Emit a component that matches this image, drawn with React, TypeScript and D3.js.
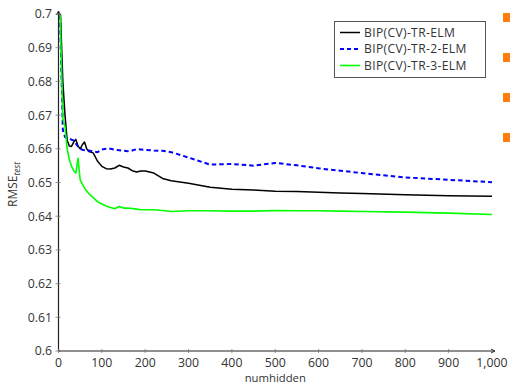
import React from "react";
import * as d3 from "d3";

// numhidden sample points shared by all three series
const numHidden = [1, 10, 15, 20, 25, 30, 35, 40, 45, 50, 55, 60, 65, 70, 80, 90, 100, 110, 120, 130, 140, 150, 160, 170, 180, 190, 200, 220, 240, 260, 300, 350, 400, 450, 500, 550, 600, 650, 700, 800, 900, 1000];

const rmseTR = [0.713, 0.68, 0.67, 0.6625, 0.6608, 0.6607, 0.662, 0.6628, 0.6608, 0.66, 0.6612, 0.662, 0.66, 0.6592, 0.6588, 0.6563, 0.6548, 0.6541, 0.654, 0.6543, 0.6551, 0.6546, 0.6543, 0.6535, 0.6531, 0.6534, 0.6534, 0.6528, 0.6512, 0.6505, 0.6498, 0.6486, 0.648, 0.6478, 0.6474, 0.6473, 0.6471, 0.6469, 0.6467, 0.6464, 0.6461, 0.6459];

const rmseTR2 = [0.713, 0.6656, 0.6635, 0.6632, 0.663, 0.6627, 0.6625, 0.6615, 0.6607, 0.6601, 0.6597, 0.6596, 0.6595, 0.6595, 0.6592, 0.659, 0.6598, 0.66, 0.66, 0.6597, 0.6596, 0.6594, 0.6593, 0.6595, 0.6599, 0.6598, 0.6597, 0.6595, 0.6594, 0.659, 0.6574, 0.6553, 0.6555, 0.655, 0.6558, 0.6551, 0.6542, 0.6535, 0.6528, 0.6515, 0.6508, 0.6501];

const rmseTR3 = [0.713, 0.669, 0.6665, 0.66, 0.6568, 0.6548, 0.6535, 0.6528, 0.6572, 0.6508, 0.6495, 0.6484, 0.6475, 0.6467, 0.6455, 0.6443, 0.6436, 0.643, 0.6426, 0.6422, 0.6429, 0.6424, 0.6424, 0.6423, 0.6421, 0.6419, 0.6419, 0.6419, 0.6417, 0.6414, 0.6416, 0.6416, 0.6415, 0.6415, 0.6417, 0.6416, 0.6416, 0.6415, 0.6414, 0.6412, 0.6409, 0.6405];

const xTicks = [0, 100, 200, 300, 400, 500, 600, 700, 800, 900, 1000];
const yTicks = [0.6, 0.61, 0.62, 0.63, 0.64, 0.65, 0.66, 0.67, 0.68, 0.69, 0.7];

const seriesNames = ["BIP(CV)-TR-ELM", "BIP(CV)-TR-2-ELM", "BIP(CV)-TR-3-ELM"];
const seriesColors = ["#000000", "#0000ff", "#00ff00"];
const seriesDash = [null, "4.5,3", null];
const seriesWidth = [1.5, 2, 1.6];

const W = 510;
const H = 384;
const margin = { top: 14, right: 18, bottom: 33, left: 58.5 };
const FONT = "'Open Sans', sans-serif";

export default function App() {
  const x = d3.scaleLinear().domain([0, 1000]).range([margin.left, W - margin.right]);
  const y = d3.scaleLinear().domain([0.6, 0.7]).range([H - margin.bottom, margin.top]);

  const all = [rmseTR, rmseTR2, rmseTR3];
  const line = d3
    .line<number>()
    .x((_, i) => x(numHidden[i]))
    .y((d) => y(d));

  const x0 = x(0);
  const x1 = x(1000);
  const yb = y(0.6);
  const yt = y(0.7);

  const fmtX = d3.format(",");

  return (
    <svg width={W} height={H} style={{ position: "absolute", left: 0, top: 0 }} fontFamily={FONT}>
      <rect width={W} height={H} fill="#fff" />
      <defs>
        <clipPath id="plot">
          <rect x={x0} y={yt} width={x1 - x0} height={yb - yt} />
        </clipPath>
      </defs>

      {/* data lines */}
      <g clipPath="url(#plot)">
        {all.map((vals, k) => (
          <path
            key={k}
            d={line(vals) || ""}
            fill="none"
            stroke={seriesColors[k]}
            strokeWidth={seriesWidth[k]}
            strokeDasharray={seriesDash[k] || undefined}
            strokeLinejoin="round"
          />
        ))}
      </g>

      {/* y axis */}
      <line x1={x0} x2={x0} y1={yb} y2={yt - 2} stroke="#222" strokeWidth={1.2} />
      <path d={`M${x0 - 2},${yt + 1} L${x0},${yt - 3} L${x0 + 2},${yt + 1}`} fill="none" stroke="#222" strokeWidth={1} />
      {yTicks.map((t) => (
        <g key={t}>
          <line x1={x0 - 3} x2={x0 + 2} y1={y(t)} y2={y(t)} stroke="#777" strokeWidth={0.8} />
          <text x={x0 - 6.5} y={y(t)} dy="0.36em" textAnchor="end" fontSize={12.3} fill="#333">
            {String(t)}
          </text>
        </g>
      ))}

      {/* x axis */}
      <line x1={x0} x2={x1 + 2} y1={yb} y2={yb} stroke="#222" strokeWidth={1.2} />
      <path d={`M${x1 - 1},${yb - 2} L${x1 + 3},${yb} L${x1 - 1},${yb + 2}`} fill="none" stroke="#222" strokeWidth={1} />
      {xTicks.map((t) => (
        <g key={t}>
          <line x1={x(t)} x2={x(t)} y1={yb - 2} y2={yb + 2} stroke="#777" strokeWidth={0.8} />
          <text x={x(t)} y={yb + 16} textAnchor="middle" fontSize={12.3} fill="#333">
            {fmtX(t)}
          </text>
        </g>
      ))}

      {/* axis labels */}
      <text x={(x0 + x1) / 2} y={382} textAnchor="middle" fontSize={11.3} fill="#333">
        numhidden
      </text>
      <text transform={`translate(17,${(yt + yb) / 2 + 2}) rotate(-90)`} textAnchor="middle" fontSize={12} fill="#333">
        RMSE
        <tspan fontSize={8.5} fontStyle="italic" dy={3}>
          test
        </tspan>
      </text>

      {/* legend */}
      <g>
        <rect x={334.5} y={21.5} width={151} height={56} fill="#fff" stroke="#555" strokeWidth={1} />
        {seriesNames.map((name, k) => {
          const ly = 32.5 + k * 16.5;
          return (
            <g key={name}>
              <line
                x1={340}
                x2={360}
                y1={ly}
                y2={ly}
                stroke={seriesColors[k]}
                strokeWidth={seriesWidth[k]}
                strokeDasharray={seriesDash[k] ? "4,3" : undefined}
              />
              <text x={364} y={ly} dy="0.36em" fontSize={12.1} letterSpacing={0.35} fill="#333">
                {name}
              </text>
            </g>
          );
        })}
      </g>

      {/* orange markers at the right edge */}
      {[0, 1, 2, 3].map((i) => (
        <rect key={i} x={503} y={13 + i * 40} width={7} height={9} fill="#ff7f0e" />
      ))}
    </svg>
  );
}
